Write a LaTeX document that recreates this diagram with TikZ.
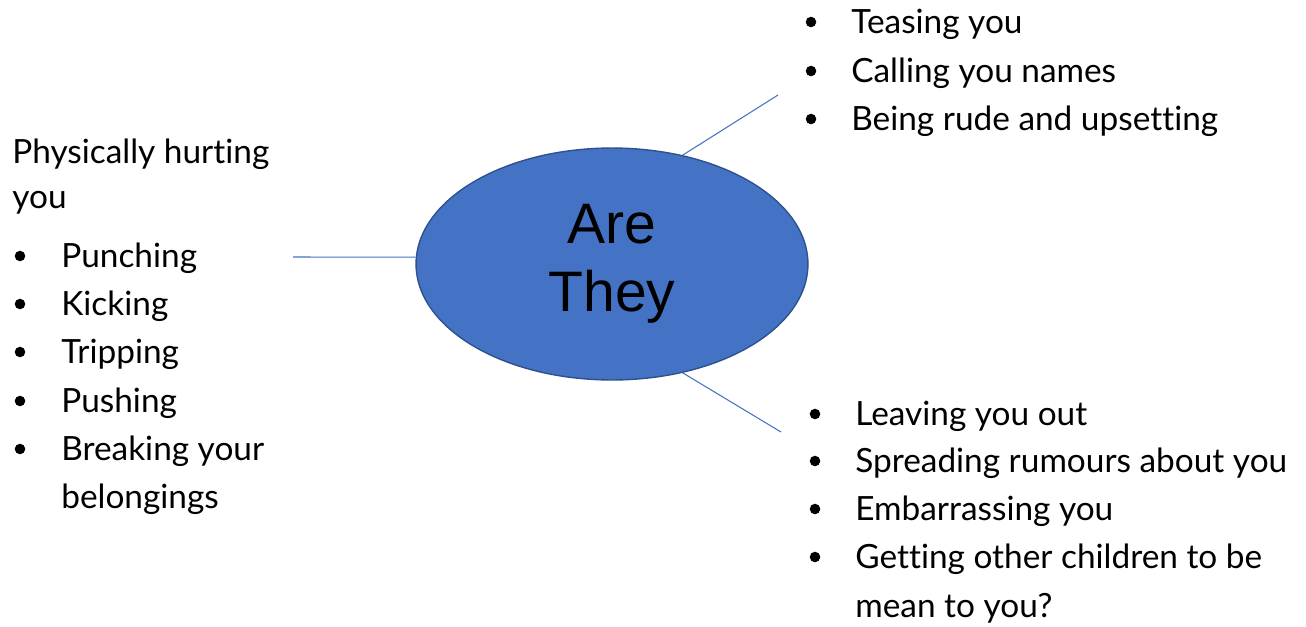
\documentclass[tikz,border=0pt]{standalone}
\usepackage{fontspec}
\setmainfont{Lato}[Ligatures=NoCommon]
\newfontfamily\arialfont{Liberation Sans}
\usetikzlibrary{shapes.geometric}
\definecolor{hubblue}{HTML}{4472C4}
\definecolor{hubedge}{HTML}{2F528F}
\tikzset{
  hub/.style={ellipse, fill=hubblue, draw=hubedge, line width=0.8pt,
    minimum width=7.84cm, minimum height=4.64cm, inner sep=0pt, align=center,
    font=\arialfont\fontsize{32.5}{38.5}\selectfont},
  item/.style={anchor=base west, inner sep=0pt, font=\fontsize{19}{23}\selectfont},
  dot/.style={circle, fill=black, inner sep=0pt, minimum size=6pt},
  spoke/.style={draw=hubblue, line width=0.6pt}
}
\begin{document}
\begin{tikzpicture}[x=0.02cm, y=-0.02cm]
  \useasboundingbox (0,0) rectangle (1306,626);
  \node[hub] (they) at (612,264) {Are\\They};

  % physical
  \node[item] (phys1) at (12,163) {Physically hurting};
  \node[item] (phys2) at (12,208) {you};
  \foreach \n/\y/\txt in {1/267/Punching,2/315/Kicking,3/363/Tripping,4/412/Pushing,5/460/Breaking your}{
    \node[dot] (ldot\n) at (20,\y-11) {};
    \node[item] (left\n) at (61,\y) {\txt};
  }
  \node[item] (left6) at (61,508) {belongings};

  % verbal
  \foreach \n/\y/\txt in {1/33/Teasing you,2/82/Calling you names,3/130/Being rude and upsetting}{
    \node[dot] (tdot\n) at (811,\y-11) {};
    \node[item] (top\n) at (851,\y) {\txt};
  }

  % social
  \foreach \n/\y/\txt in {1/425/Leaving you out,2/472/Spreading rumours about you,3/520/Embarrassing you,4/568/Getting other children to be}{
    \node[dot] (bdot\n) at (815,\y-11) {};
    \node[item] (bot\n) at (855,\y) {\txt};
  }
  \node[item] (bot5) at (855,617) {mean to you?};

  % spokes
  \coordinate (lend) at (293,257);
  \coordinate (trend) at (778,95);
  \coordinate (brend) at (781,432);
  \draw[spoke] (lend) -- (they.178);
  \draw[spoke] (they.57) -- (trend);
  \draw[spoke] (they.-57) -- (brend);
\end{tikzpicture}
\end{document}
